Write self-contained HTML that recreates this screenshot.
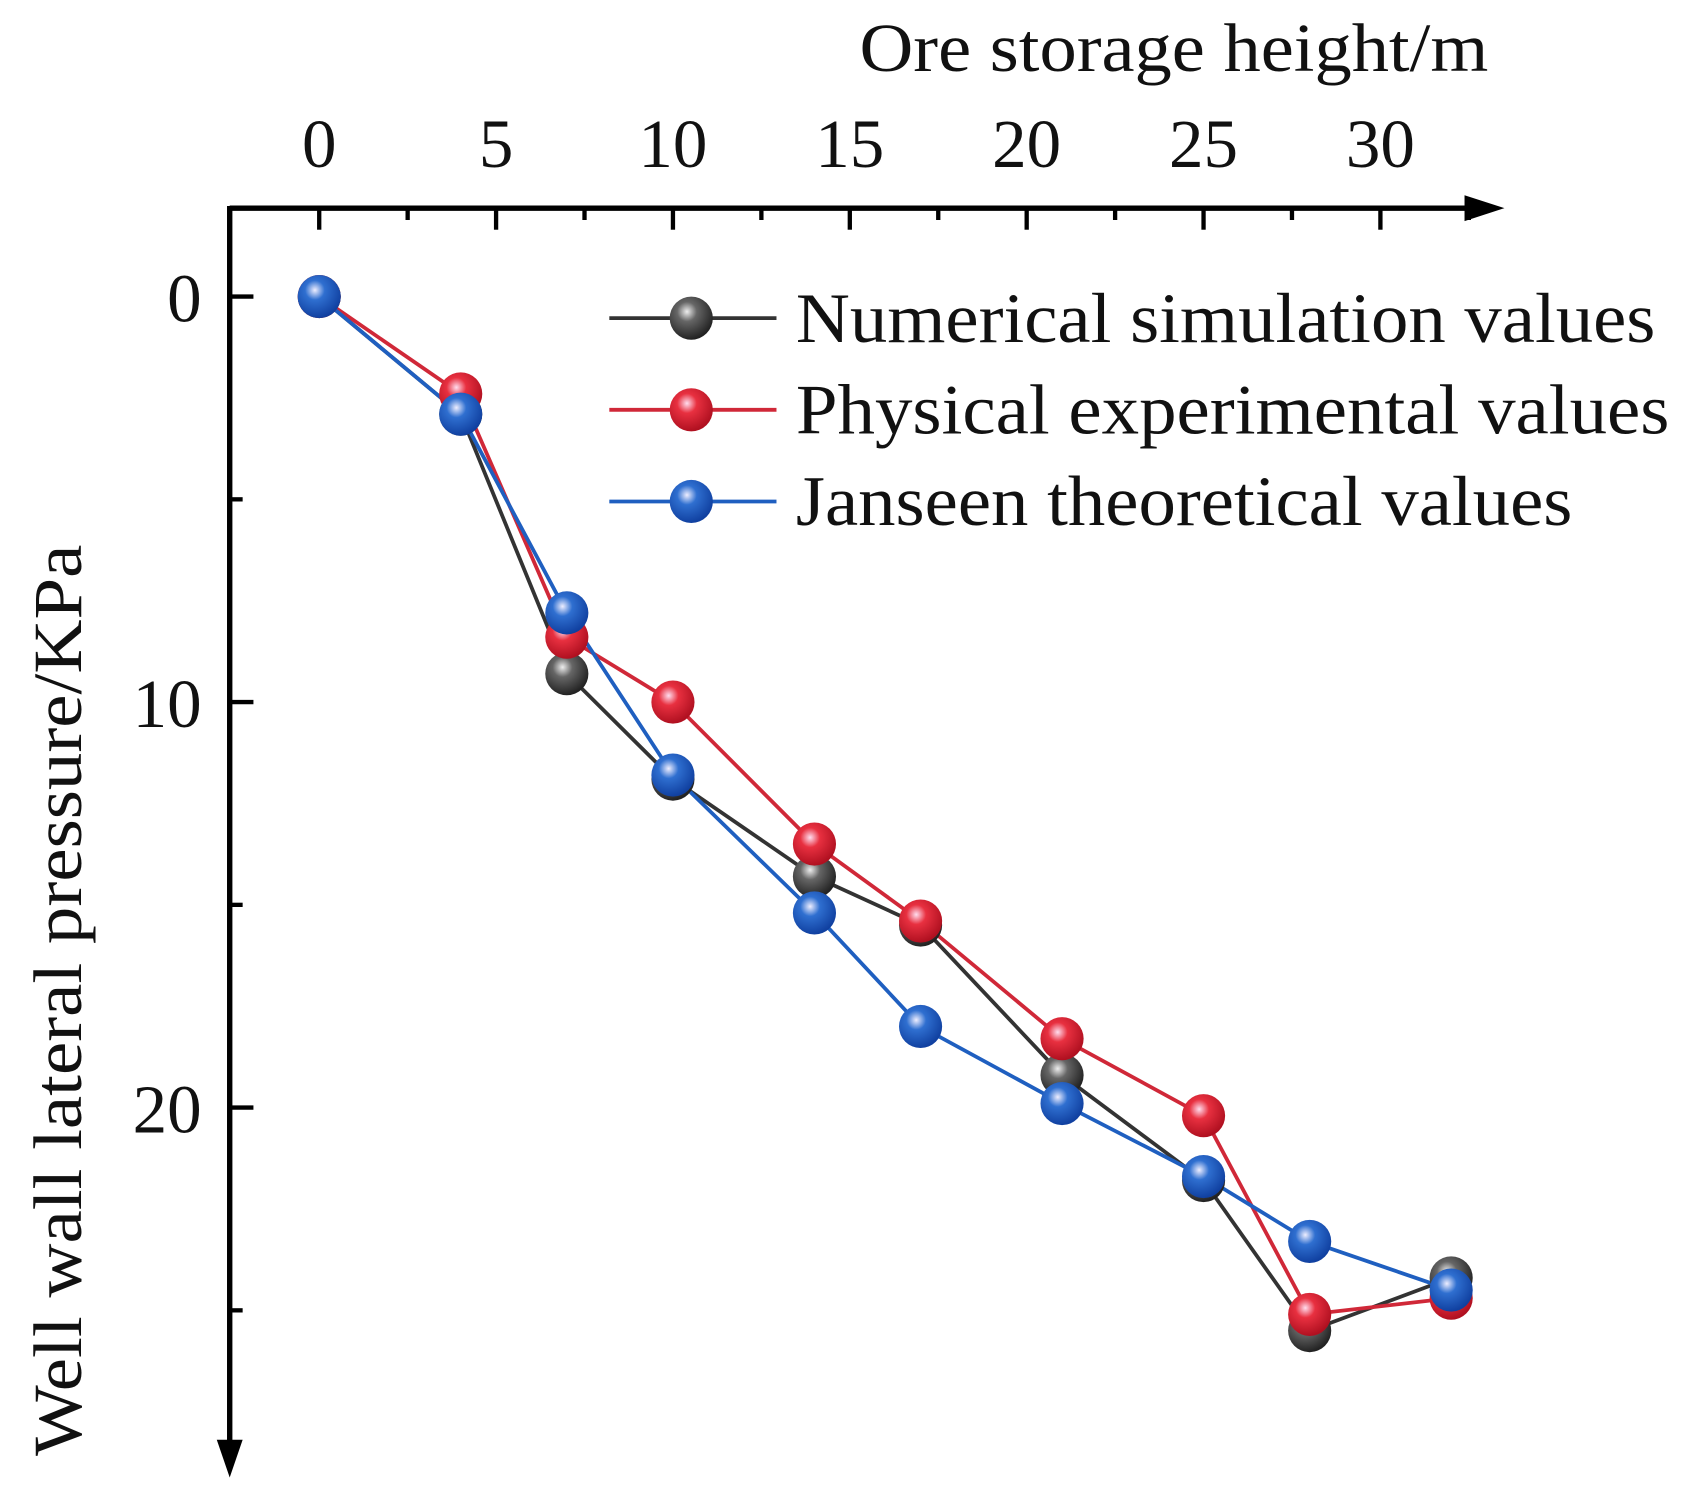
<!DOCTYPE html>
<html><head><meta charset="utf-8"><style>
html,body{margin:0;padding:0;background:#fff;}
svg{display:block;}
text{font-family:"Liberation Serif",serif;fill:#111;}
</style></head><body>
<svg id="chart" width="1691" height="1498" viewBox="0 0 1568 1389" preserveAspectRatio="none" xmlns="http://www.w3.org/2000/svg">
<defs>
<radialGradient id="gk" cx="0.4" cy="0.35" r="0.65"><stop offset="0" stop-color="#eee"/><stop offset="0.35" stop-color="#666"/><stop offset="1" stop-color="#222"/></radialGradient>
<radialGradient id="gr" cx="0.4" cy="0.35" r="0.65"><stop offset="0" stop-color="#fde"/><stop offset="0.35" stop-color="#e83040"/><stop offset="1" stop-color="#b01020"/></radialGradient>
<radialGradient id="gb" cx="0.4" cy="0.35" r="0.65"><stop offset="0" stop-color="#eef"/><stop offset="0.35" stop-color="#2f6fd0"/><stop offset="1" stop-color="#1040a0"/></radialGradient>
</defs>
<g id="axes"></g>
<g id="series"></g>
<g id="legend"></g>
</svg>
<script>
const heights = [0, 4, 7, 10, 14, 17, 21, 25, 28, 32];
const numerical = [0, 2.9, 9.3, 11.9, 14.3, 15.5, 19.2, 21.8, 25.5, 24.2];
const physical = [0, 2.4, 8.4, 10, 13.5, 15.4, 18.3, 20.2, 25.1, 24.7];
const janseen = [0, 2.9, 7.8, 11.8, 15.2, 18.0, 19.9, 21.7, 23.3, 24.5];
const xTicks = [0, 5, 10, 15, 20, 25, 30];
const yTicks = [0, 10, 20];
const seriesNames = ["Numerical simulation values", "Physical experimental values", "Janseen theoretical values"];

const NS = "http://www.w3.org/2000/svg";
const X = v => 296 + v * 32.8;
const Y = v => 275 + v * 37.6;
function mk(tag, attrs, parent) {
  const e = document.createElementNS(NS, tag);
  for (const k in attrs) e.setAttribute(k, attrs[k]);
  parent.appendChild(e);
  return e;
}
const axes = document.getElementById('axes');
let e;
e = mk('line', {x1: 213, y1: 193, x2: 1370, y2: 193, stroke: '#000', 'stroke-width': 5}, axes);


e = mk('polygon', {points: '1358,181 1395,193 1358,205', fill: '#000'}, axes);


e = mk('line', {x1: 213, y1: 191, x2: 213, y2: 1345, stroke: '#000', 'stroke-width': 5}, axes);


e = mk('polygon', {points: '201,1335 213,1370 225,1335', fill: '#000'}, axes);


xTicks.forEach((t, i) => {
  e = mk('line', {x1: X(t), y1: 193, x2: X(t), y2: 213, stroke: '#000', 'stroke-width': 4}, axes);
  
  
  e = mk('line', {x1: X(t + 2.5), y1: 193, x2: X(t + 2.5), y2: 204, stroke: '#000', 'stroke-width': 4}, axes);
  
  
  e = mk('text', {x: X(t), y: 155, 'font-size': 64, 'text-anchor': 'middle'}, axes);
  e.textContent = t;
  
  
});
yTicks.forEach(t => {
  e = mk('line', {x1: 213, y1: Y(t), x2: 235, y2: Y(t), stroke: '#000', 'stroke-width': 4}, axes);
  
  
  e = mk('line', {x1: 213, y1: Y(t + 5), x2: 225, y2: Y(t + 5), stroke: '#000', 'stroke-width': 4}, axes);
  
  
  e = mk('text', {x: 187, y: Y(t) + 23, 'font-size': 64, 'text-anchor': 'end'}, axes);
  e.textContent = t;
  
  
});
e = mk('text', {x: 797, y: 66, 'font-size': 64, textLength: 583, lengthAdjust: 'spacingAndGlyphs'}, axes);
e.textContent = 'Ore storage height/m';


e = mk('text', {x: -422, y: 0, 'font-size': 64, textLength: 845, lengthAdjust: 'spacingAndGlyphs', transform: 'translate(75,928) rotate(-90)'}, axes);
e.textContent = 'Well wall lateral pressure/KPa';



const sg = document.getElementById('series');
const defs = [[numerical, '#333', 'gk', 'numerical'], [physical, '#d02838', 'gr', 'physical'], [janseen, '#1f5fc0', 'gb', 'janseen']];
defs.forEach(([vals, col, grad, nm]) => {
  const pts = heights.map((h, i) => X(h) + ',' + Y(vals[i])).join(' ');
  e = mk('polyline', {points: pts, fill: 'none', stroke: col, 'stroke-width': 3.5}, sg);
  
  
});
defs.forEach(([vals, col, grad, nm]) => {
  heights.forEach((h, i) => {
    e = mk('circle', {cx: X(h), cy: Y(vals[i]), r: 20, fill: 'url(#' + grad + ')'}, sg);
    
    
  });
});

const legendLens = [797, 810, 720];
const lg = document.getElementById('legend');
defs.forEach(([vals, col, grad, nm], i) => {
  const y = 295 + i * 85;
  e = mk('line', {x1: 565, y1: y, x2: 720, y2: y, stroke: col, 'stroke-width': 3.5}, lg);
  
  
  e = mk('circle', {cx: 641, cy: y, r: 20, fill: 'url(#' + grad + ')'}, lg);
  
  
  e = mk('text', {x: 738, y: y + 22, 'font-size': 66, textLength: legendLens[i], lengthAdjust: 'spacingAndGlyphs'}, lg);
  e.textContent = seriesNames[i];
  
  
});
</script>
</body></html>
